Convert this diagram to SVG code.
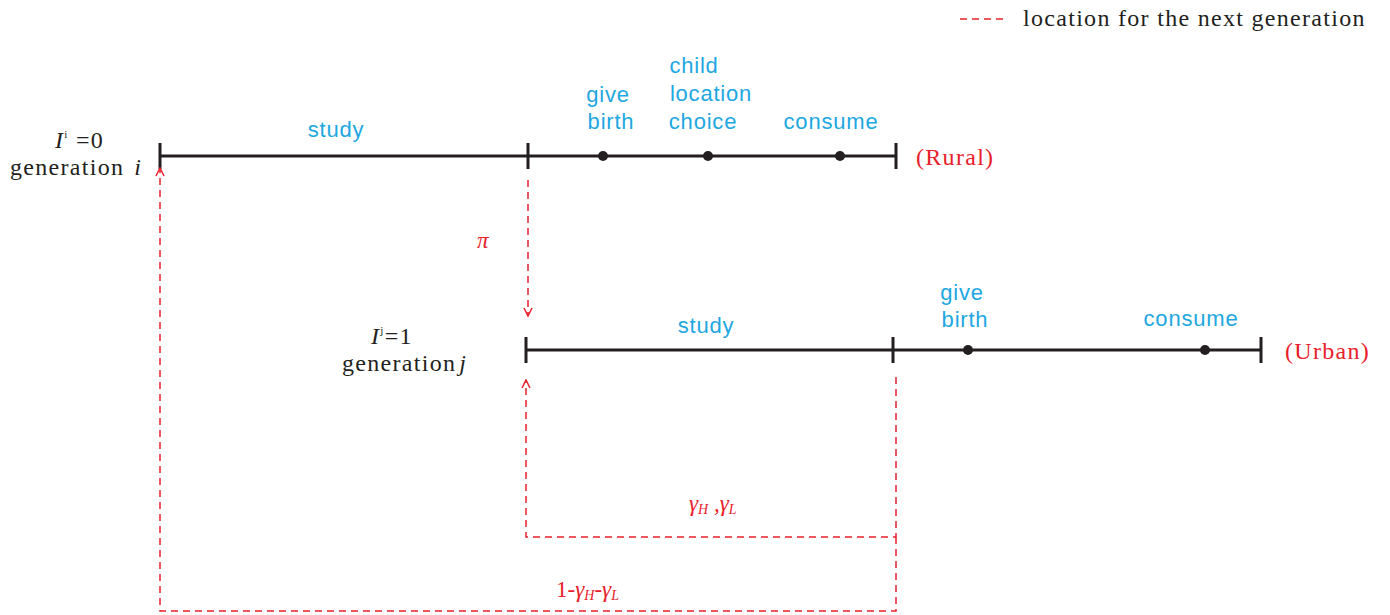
<svg xmlns="http://www.w3.org/2000/svg" width="1390" height="615" viewBox="0 0 1390 615">
<style>
.line{stroke:#231f20;stroke-width:3;fill:none}
.tick{stroke:#231f20;stroke-width:3}
.dot{fill:#231f20}
.dash{stroke:#e8202a;stroke-width:1.5;fill:none;stroke-dasharray:7,5}
.blue{font-family:"Liberation Sans",Arial,sans-serif;font-size:22px;fill:#1ea7e1;text-anchor:middle;letter-spacing:0.8px}
.ser{font-family:"Liberation Serif","Times New Roman",serif;font-size:24px;fill:#231f20;letter-spacing:1.3px}
.red{font-family:"Liberation Serif","Times New Roman",serif;font-size:24px;fill:#e8202a;letter-spacing:1.3px}
.redi{font-family:"Liberation Serif","Times New Roman",serif;font-size:23px;fill:#e8202a;font-style:italic}
</style>
<defs>
<marker id="ah" viewBox="0 0 10 10" refX="9" refY="5" markerWidth="10" markerHeight="10" markerUnits="userSpaceOnUse" orient="auto">
<path d="M1,1 L9,5 L1,9" fill="none" stroke="#e8202a" stroke-width="1.5"/>
</marker>
</defs>
<g id="legend">
<line x1="960" y1="19" x2="1006" y2="19" class="dash"/>
<text x="1023" y="26" class="ser">location for the next generation</text>
</g>
<g id="gen-i">
<line x1="160" y1="156" x2="896" y2="156" class="line"/>
<line x1="160" y1="143" x2="160" y2="169" class="tick"/>
<line x1="528" y1="143" x2="528" y2="169" class="tick"/>
<line x1="896" y1="143" x2="896" y2="169" class="tick"/>
<circle cx="603" cy="156" r="5" class="dot"/>
<circle cx="708" cy="156" r="5" class="dot"/>
<circle cx="840" cy="156" r="5" class="dot"/>
<text x="336" y="137" class="blue">study</text>
<text x="608" y="102" class="blue">give</text>
<text x="611" y="129" class="blue">birth</text>
<text x="694" y="73" class="blue">child</text>
<text x="711" y="101" class="blue">location</text>
<text x="703" y="129" class="blue">choice</text>
<text x="831" y="129" class="blue">consume</text>
<text x="55" y="148" class="ser"><tspan font-style="italic">I</tspan><tspan font-size="11" dy="-10">i</tspan><tspan dy="10"> =0</tspan></text>
<text x="10" y="175" class="ser">generation<tspan dx="10" font-style="italic">i</tspan></text>
<text x="916" y="165" class="red">(Rural)</text>
</g>
<g id="gen-j">
<line x1="526" y1="350" x2="1261" y2="350" class="line"/>
<line x1="526" y1="337" x2="526" y2="363" class="tick"/>
<line x1="893" y1="337" x2="893" y2="363" class="tick"/>
<line x1="1261" y1="337" x2="1261" y2="363" class="tick"/>
<circle cx="968" cy="350" r="5" class="dot"/>
<circle cx="1205" cy="350" r="5" class="dot"/>
<text x="706" y="333" class="blue">study</text>
<text x="962" y="300" class="blue">give</text>
<text x="965" y="327" class="blue">birth</text>
<text x="1191" y="326" class="blue">consume</text>
<text x="371" y="344" class="ser"><tspan font-style="italic">I</tspan><tspan font-size="11" dy="-10">j</tspan><tspan dy="10">=1</tspan></text>
<text x="342" y="371" class="ser">generation<tspan dx="3" font-style="italic">j</tspan></text>
<text x="1285" y="359" class="red">(Urban)</text>
</g>
<g id="connectors">
<line x1="528" y1="180" x2="528" y2="316" class="dash" marker-end="url(#ah)"/>
<text x="477" y="248" class="redi">π</text>
<polyline points="896,377 896,537 526,537 526,380" class="dash" marker-end="url(#ah)"/>
<text x="689" y="511" class="redi">γ<tspan font-size="14" dy="3">H</tspan><tspan dy="-3"> ,γ</tspan><tspan font-size="14" dy="3">L</tspan></text>
<polyline points="896,537 896,611 160,611 160,168" class="dash" marker-end="url(#ah)"/>
<text x="556" y="597" class="redi"><tspan font-style="normal">1-</tspan>γ<tspan font-size="14" dy="3">H</tspan><tspan dy="-3" font-style="normal">-</tspan>γ<tspan font-size="14" dy="3">L</tspan></text>
</g>
</svg>
